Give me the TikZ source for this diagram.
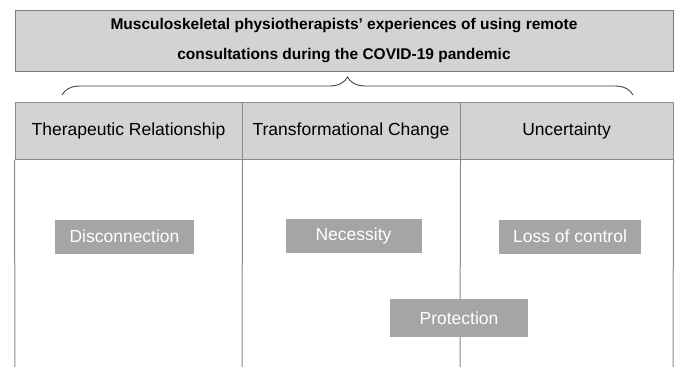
\documentclass[tikz,border=0pt]{standalone}
\usepackage{fontspec}
\setmainfont{Liberation Sans}
\usepackage{tikz}
\usetikzlibrary{calc, shapes, arrows, decorations.pathreplacing}

\definecolor{boxgray}{HTML}{D3D3D3}
\definecolor{themegray}{HTML}{A5A5A5}
\definecolor{edgegray}{HTML}{8A8A8A}

\begin{document}
\begin{tikzpicture}[x=1pt,y=-1pt]
\tikzstyle{head}=[rectangle,draw=edgegray,line width=1pt,fill=boxgray,minimum height=57pt,inner sep=0pt,font=\fontsize{17.5}{21}\selectfont]
\tikzstyle{theme}=[rectangle,fill=themegray,text=white,minimum height=34pt,inner sep=0pt,font=\fontsize{17.5}{21}\selectfont]
\useasboundingbox (0,0) rectangle (676,367);
% overall theme
\node[rectangle,draw=edgegray!90!black,line width=1pt,fill=boxgray,minimum width=658pt,minimum height=61pt,align=center,font=\bfseries\fontsize{15.5}{30}\selectfont] (title) at (344,40.5)
  {Musculoskeletal physiotherapists’ experiences of using remote\\consultations during the COVID-19 pandemic};
\coordinate (B_l) at (62,95);
\coordinate (B_r) at (633,95);
\draw[black!75,line width=0.9pt,decorate,decoration={brace,amplitude=18pt}] (B_l) -- (B_r);
% header row
\node[head,minimum width=227pt] (H_1) at (128.5,130.5) {Therapeutic Relationship};
\node[head,minimum width=218pt] (H_2) at (351,130.5) {Transformational Change};
\node[head,minimum width=213pt] (H_3) at (566.5,130.5) {Uncertainty};
\coordinate (C_0) at (15,367);
\coordinate (C_1) at (242,367);
\coordinate (C_2) at (460,367);
\coordinate (C_3) at (673,367);
\draw[edgegray,line width=1pt] (H_1.south west) -- (C_0);
\draw[edgegray,line width=1pt] (H_1.south east) -- (C_1);
\draw[edgegray,line width=1pt] (H_2.south east) -- (C_2);
\draw[edgegray,line width=1pt] (H_3.south east) -- (C_3);
% sub-themes
\node[theme,minimum width=139pt] (S_1) at (124.5,236.5) {Disconnection};
\node[theme,minimum width=136pt] (S_2) at (353.5,235.5) {Necessity};
\node[theme,minimum width=142pt] (S_3) at (570,236.5) {Loss of control};
\node[theme,minimum width=138pt,minimum height=38pt] (S_4) at (459,318) {Protection};
\end{tikzpicture}
\end{document}
